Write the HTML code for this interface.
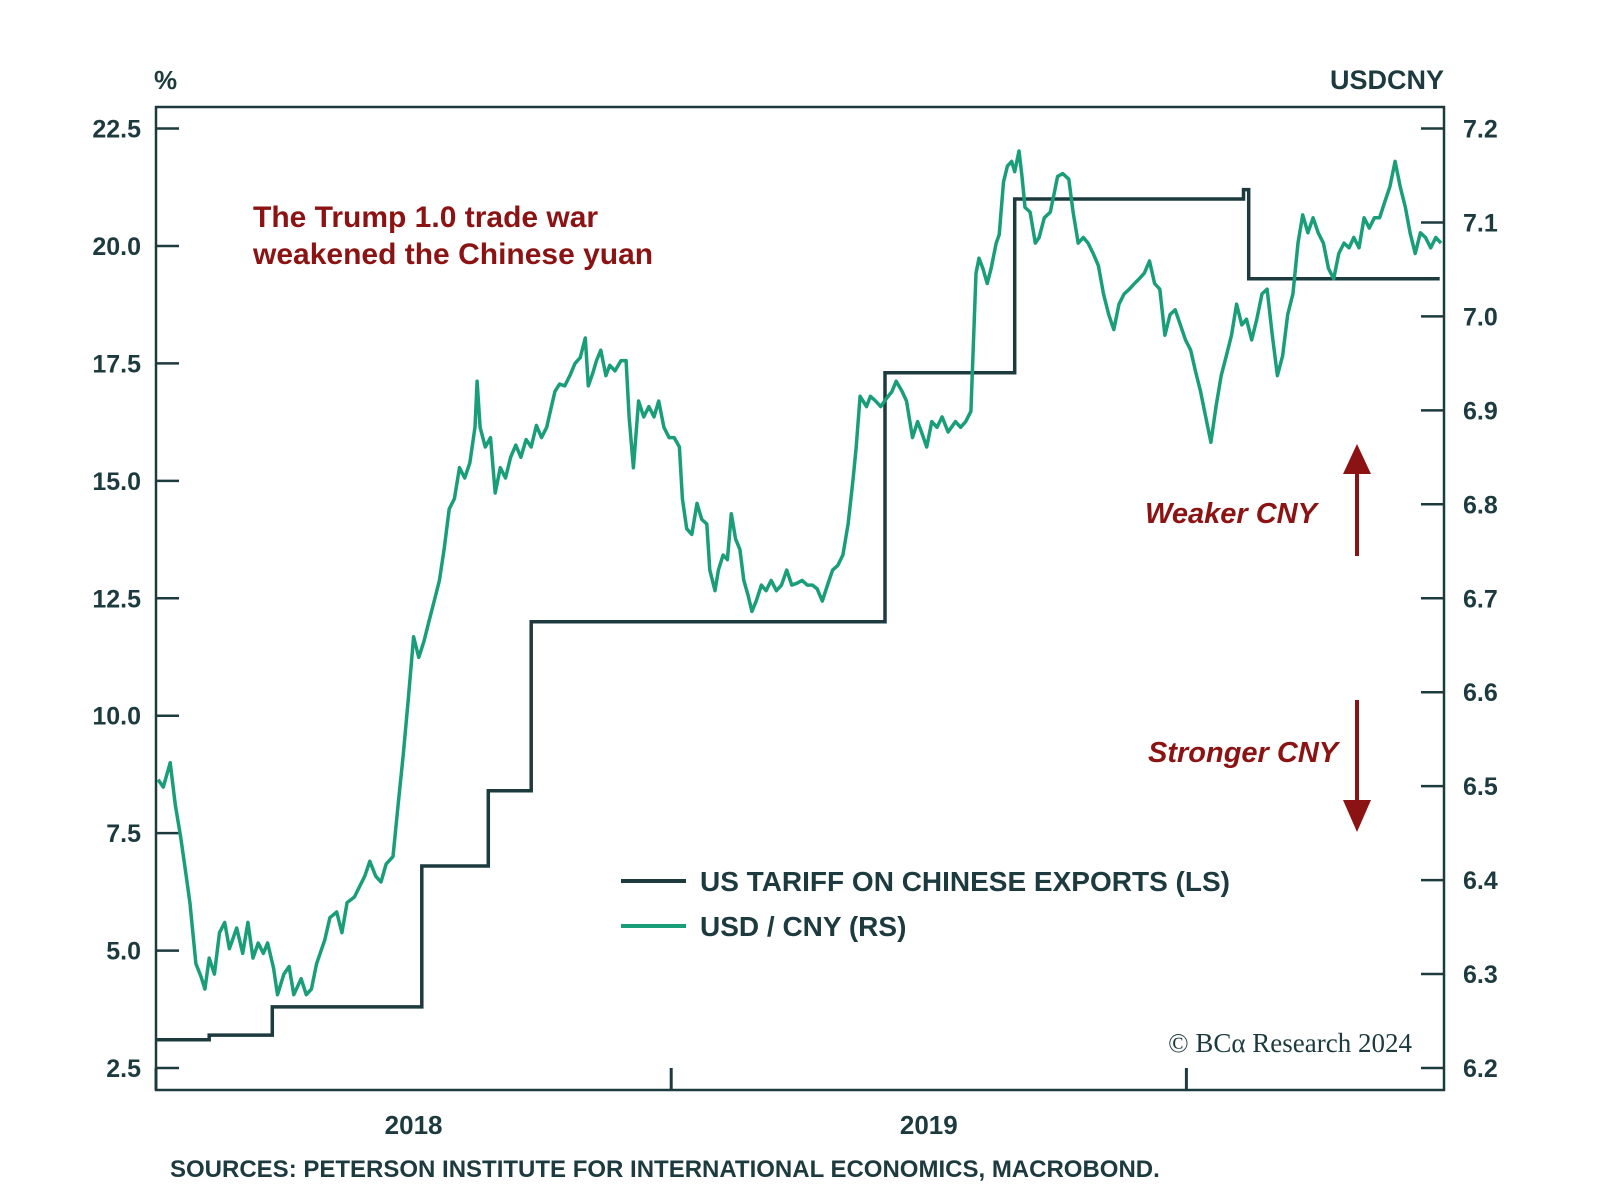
<!DOCTYPE html>
<html><head><meta charset="utf-8"><style>
html,body{margin:0;padding:0;background:#fff;}
svg{display:block;font-family:"Liberation Sans",sans-serif;}
svg text{font-weight:bold;}
</style></head><body>
<svg id="chart" width="1600" height="1198" viewBox="0 0 1600 1198" xmlns="http://www.w3.org/2000/svg">
<rect x="0" y="0" width="1600" height="1198" fill="#fff"/>
<g id="axes"></g>
<g id="series"></g>
<text x="154" y="89" font-size="26" fill="#1d3b3f">%</text>
<text x="1444" y="89" font-size="27" fill="#1d3b3f" text-anchor="end">USDCNY</text>
<text x="253" y="227" font-size="30" fill="#8b1313">The Trump 1.0 trade war</text>
<text x="253" y="264" font-size="30" fill="#8b1313">weakened the Chinese yuan</text>
<text x="1145" y="523" font-size="29" font-style="italic" fill="#8b1313">Weaker CNY</text>
<line x1="1357" y1="556" x2="1357" y2="470" stroke="#8b1313" stroke-width="4"/>
<polygon points="1343,474 1357,444 1371,474" fill="#8b1313"/>
<text x="1148" y="762" font-size="29" font-style="italic" fill="#8b1313">Stronger CNY</text>
<line x1="1357" y1="700" x2="1357" y2="805" stroke="#8b1313" stroke-width="4"/>
<polygon points="1343,800 1357,832 1371,800" fill="#8b1313"/>
<g>
<line x1="621" y1="881" x2="686" y2="881" stroke="#1d3b3f" stroke-width="4"/>
<text x="700" y="891" font-size="28" fill="#1d3b3f">US TARIFF ON CHINESE EXPORTS (LS)</text>
<line x1="621" y1="926" x2="686" y2="926" stroke="#1a9e7a" stroke-width="4"/>
<text x="700" y="936" font-size="28" fill="#1d3b3f">USD / CNY (RS)</text>
</g>
<text x="1412" y="1052" font-size="27" fill="#1d3b3f" text-anchor="end" font-family="Liberation Serif, serif" style="font-weight:normal">© BCα Research 2024</text>
<text x="170" y="1177" font-size="24" fill="#1d3b3f">SOURCES: PETERSON INSTITUTE FOR INTERNATIONAL ECONOMICS, MACROBOND.</text>
</svg>
<script>
const leftTicks = [2.5, 5.0, 7.5, 10.0, 12.5, 15.0, 17.5, 20.0, 22.5];
const rightTicks = [6.2, 6.3, 6.4, 6.5, 6.6, 6.7, 6.8, 6.9, 7.0, 7.1, 7.2];
const yearLabels = ["2018", "2019"];
// tariff step series: start month (from Jan 2018) and % level
const tariffMonths = [0, 1.24, 2.71, 6.19, 7.74, 8.74, 16.98, 20.0, 25.33, 25.45];
const tariffValues = [3.1, 3.2, 3.8, 6.8, 8.4, 12.0, 17.3, 21.0, 21.2, 19.3];
// USD/CNY: months since Jan 2018 and rate
const cnyMonths = [0.05,0.17,0.33,0.45,0.57,0.69,0.79,0.93,1.05,1.14,1.24,1.36,1.48,1.6,1.71,1.88,2.02,2.14,2.26,2.38,2.5,2.6,2.74,2.83,2.98,3.1,3.21,3.38,3.5,3.62,3.74,3.93,4.05,4.21,4.33,4.45,4.62,4.74,4.86,4.98,5.12,5.24,5.36,5.52,5.64,5.76,5.88,6.0,6.12,6.24,6.36,6.48,6.6,6.71,6.83,6.95,7.07,7.19,7.31,7.43,7.48,7.55,7.67,7.79,7.9,8.02,8.14,8.26,8.38,8.5,8.62,8.74,8.86,8.98,9.1,9.21,9.29,9.4,9.52,9.64,9.76,9.88,10.0,10.07,10.17,10.26,10.36,10.48,10.57,10.69,10.83,10.95,11.02,11.12,11.24,11.36,11.48,11.6,11.71,11.83,11.95,12.07,12.19,12.26,12.36,12.48,12.6,12.71,12.83,12.9,13.02,13.1,13.21,13.31,13.4,13.5,13.6,13.69,13.79,13.88,13.98,14.1,14.21,14.33,14.45,14.57,14.69,14.81,14.93,15.05,15.17,15.29,15.4,15.52,15.64,15.76,15.88,16.0,16.12,16.24,16.31,16.4,16.55,16.64,16.76,16.88,17.02,17.14,17.24,17.38,17.48,17.62,17.74,17.83,17.95,18.07,18.19,18.31,18.45,18.62,18.74,18.86,18.98,19.1,19.17,19.26,19.36,19.45,19.57,19.64,19.74,19.83,19.93,20.0,20.1,20.17,20.24,20.36,20.48,20.57,20.69,20.83,20.93,21.0,21.12,21.26,21.36,21.48,21.6,21.71,21.83,21.95,22.07,22.19,22.31,22.43,22.55,22.67,22.79,22.9,23.02,23.14,23.26,23.38,23.5,23.62,23.74,23.86,23.98,24.1,24.21,24.33,24.45,24.57,24.69,24.81,24.93,25.05,25.17,25.29,25.4,25.52,25.64,25.76,25.88,26.0,26.12,26.24,26.36,26.48,26.6,26.71,26.83,26.95,27.07,27.19,27.31,27.43,27.55,27.67,27.79,27.9,28.02,28.14,28.26,28.38,28.5,28.62,28.74,28.86,28.98,29.1,29.21,29.33,29.45,29.57,29.69,29.81,29.93];
const cnyValues = [6.507,6.499,6.525,6.48,6.447,6.409,6.376,6.311,6.297,6.284,6.317,6.3,6.344,6.355,6.327,6.349,6.322,6.355,6.317,6.333,6.322,6.333,6.306,6.278,6.3,6.308,6.278,6.295,6.278,6.284,6.311,6.336,6.36,6.366,6.344,6.376,6.382,6.393,6.404,6.42,6.404,6.398,6.417,6.425,6.48,6.534,6.594,6.659,6.637,6.654,6.676,6.697,6.719,6.752,6.795,6.806,6.839,6.828,6.844,6.882,6.931,6.882,6.861,6.871,6.812,6.839,6.828,6.85,6.863,6.85,6.869,6.861,6.884,6.871,6.882,6.904,6.92,6.928,6.926,6.937,6.95,6.956,6.977,6.926,6.939,6.953,6.964,6.937,6.948,6.942,6.953,6.953,6.893,6.839,6.91,6.893,6.904,6.893,6.91,6.882,6.871,6.871,6.861,6.806,6.774,6.768,6.801,6.784,6.779,6.73,6.708,6.73,6.746,6.741,6.79,6.763,6.752,6.719,6.703,6.686,6.697,6.714,6.708,6.719,6.708,6.714,6.73,6.714,6.716,6.719,6.714,6.714,6.71,6.697,6.714,6.73,6.735,6.746,6.779,6.828,6.861,6.915,6.904,6.915,6.91,6.904,6.913,6.92,6.931,6.92,6.91,6.871,6.888,6.877,6.861,6.888,6.882,6.893,6.877,6.888,6.882,6.888,6.899,7.046,7.062,7.051,7.035,7.051,7.078,7.087,7.143,7.16,7.165,7.154,7.176,7.149,7.116,7.111,7.078,7.084,7.105,7.111,7.133,7.149,7.152,7.146,7.111,7.078,7.084,7.078,7.067,7.054,7.024,7.002,6.986,7.013,7.024,7.029,7.035,7.04,7.046,7.059,7.035,7.029,6.98,7.002,7.007,6.991,6.975,6.964,6.942,6.92,6.893,6.866,6.904,6.937,6.958,6.98,7.013,6.991,6.997,6.975,6.997,7.024,7.029,6.98,6.937,6.958,7.002,7.024,7.078,7.108,7.089,7.105,7.089,7.078,7.051,7.04,7.067,7.078,7.073,7.084,7.073,7.105,7.094,7.105,7.105,7.122,7.138,7.165,7.138,7.116,7.089,7.067,7.089,7.084,7.073,7.084,7.078];
const monthEnd = 30;

const NS = "http://www.w3.org/2000/svg";
const L = 156, R = 1444, T = 107, B = 1090, Y0 = 128.5, Y1 = 1068;
const xS = m => L + (m / monthEnd) * (R - L);
const yL = v => Y1 - (v - 2.5) / 20 * (Y1 - Y0);
const yR = v => Y1 - (v - 6.2) / 1.0 * (Y1 - Y0);
const INK = "#1d3b3f";
function mk(tag, attrs, parent) {
  const e = document.createElementNS(NS, tag);
  for (const k in attrs) e.setAttribute(k, attrs[k]);
  parent.appendChild(e);
  return e;
}
const axes = document.getElementById("axes");
const series = document.getElementById("series");

const frame = mk("rect", {x: L, y: T, width: R - L, height: B - T, fill: "none", stroke: INK, "stroke-width": 2.5}, axes);



leftTicks.forEach(v => {
  const t = mk("line", {x1: L, x2: L + 23, y1: yL(v), y2: yL(v), stroke: INK, "stroke-width": 2.5}, axes);
  
  
  const lb = mk("text", {x: 141, y: yL(v) + 9, "text-anchor": "end", "font-size": 25, fill: INK}, axes);
  lb.textContent = v.toFixed(1);
  
  
});
rightTicks.forEach(v => {
  const t = mk("line", {x1: R - 23, x2: R, y1: yR(v), y2: yR(v), stroke: INK, "stroke-width": 2.5}, axes);
  
  
  const lb = mk("text", {x: 1463, y: yR(v) + 9, "font-size": 25, fill: INK}, axes);
  lb.textContent = v.toFixed(1);
  
  
});
[0, 12, 24].forEach(m => {
  const t = mk("line", {x1: xS(m), x2: xS(m), y1: B, y2: B - 22, stroke: INK, "stroke-width": 3}, axes);
  
  
});
yearLabels.forEach((lab, i) => {
  const tx = mk("text", {x: xS(i * 12 + 6), y: 1134, "text-anchor": "middle", "font-size": 26, fill: INK}, axes);
  tx.textContent = lab;
  
  
});

let td = "";
tariffMonths.forEach((m, i) => {
  const x0 = xS(m), x1 = xS(i + 1 < tariffMonths.length ? tariffMonths[i + 1] : monthEnd - 0.1);
  const y = yL(tariffValues[i]);
  td += (i === 0 ? "M" : "L") + x0.toFixed(1) + "," + y.toFixed(1) + " L" + x1.toFixed(1) + "," + y.toFixed(1) + " ";
});
const tp = mk("path", {d: td, fill: "none", stroke: INK, "stroke-width": 3.5}, series);



const cd = cnyMonths.map((m, i) => (i ? "L" : "M") + xS(m).toFixed(1) + "," + yR(cnyValues[i]).toFixed(1)).join(" ");
const cp = mk("path", {d: cd, fill: "none", stroke: "#1a9e7a", "stroke-width": 3.5, "stroke-linejoin": "round"}, series);


</script>
</body></html>
